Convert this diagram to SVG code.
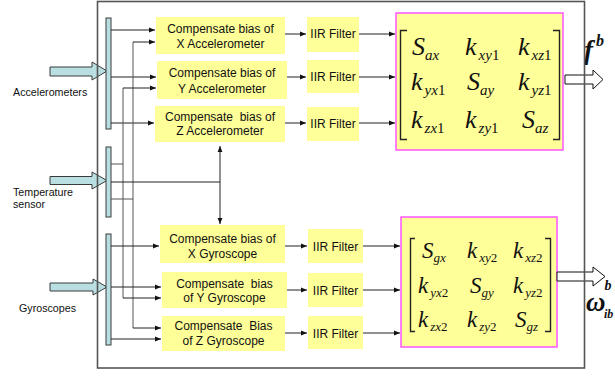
<svg xmlns="http://www.w3.org/2000/svg" width="615" height="376" viewBox="0 0 615 376">
  <style>
    .lbl { font-family: "Liberation Sans", Arial, sans-serif; font-size: 10.7px; fill: #111; }
    .box { fill: #ffff99; stroke: none; }
    .bt { font-family: "Liberation Sans", Arial, sans-serif; font-size: 12px; fill: #111; text-anchor: middle; white-space: pre; }
    .bar { fill: #b9dfe3; stroke: #3a3a3a; stroke-width: 1; }
    .fat { fill: #b9dfe3; stroke: #3a3a3a; stroke-width: 1; }
    .out { fill: #ffffff; stroke: #111; stroke-width: 1; }
    .mat { fill: #ffff99; stroke: #ff55ff; stroke-width: 1.5; }
    .brk { fill: none; stroke: #222; stroke-width: 1.4; }
    .m1 { font-family: "Liberation Serif", "Times New Roman", serif; font-style: italic; font-size: 26px; fill: #111; }
    .m2 { font-family: "Liberation Serif", "Times New Roman", serif; font-style: italic; font-size: 23px; fill: #111; }
    .s1 { font-size: 15px; }
    .s2 { font-size: 13px; }
    .n { font-style: normal; }
    .c { fill: none; stroke: #222; stroke-width: 1; }
    .cg { fill: none; stroke: #555; stroke-width: 1; }
    .sym { font-family: "Liberation Serif", "Times New Roman", serif; font-style: italic; font-weight: bold; fill: #111; }
  </style>
  <defs>
    <marker id="ah" viewBox="0 0 6 6" refX="6" refY="3" markerWidth="6" markerHeight="6" markerUnits="userSpaceOnUse" orient="auto-start-reverse">
      <path d="M0,0.6 L6,3 L0,5.4 Z" fill="#111"/>
    </marker>
  </defs>

  <!-- sensor inputs -->
  <g id="accelerometers">
    <polygon class="fat" points="50,67 92,67 92,62 107,71 92,80 92,76 50,76"/>
    <rect class="bar" x="106" y="18" width="5" height="111"/>
    <text class="lbl" x="13" y="96">Accelerometers</text>
  </g>
  <g id="temperature">
    <polygon class="fat" points="50,176.5 92,176.5 92,172 107,180.5 92,189 92,184.5 50,184.5"/>
    <rect class="bar" x="106" y="147" width="5" height="70"/>
    <text class="lbl" x="13" y="196">Temperature</text>
    <text class="lbl" x="13" y="208">sensor</text>
  </g>
  <g id="gyroscopes">
    <polygon class="fat" points="50,283 93,283 93,279 107,287 93,295 93,291 50,291"/>
    <rect class="bar" x="106" y="234" width="5" height="111"/>
    <text class="lbl" x="19" y="312">Gyroscopes</text>
  </g>

  <!-- bias compensation blocks -->
  <g id="comp-ax">
    <rect class="box" x="156" y="17" width="129" height="37"/>
    <text class="bt" x="220.5" y="33">Compensate bias of</text>
    <text class="bt" x="220.5" y="48">X Accelerometer</text>
  </g>
  <g id="comp-ay">
    <rect class="box" x="157" y="61" width="130" height="38"/>
    <text class="bt" x="222" y="77">Compensate bias of</text>
    <text class="bt" x="222" y="93">Y Accelerometer</text>
  </g>
  <g id="comp-az">
    <rect class="box" x="155" y="106" width="130" height="36"/>
    <text class="bt" x="220" y="121">Compensate  bias of</text>
    <text class="bt" x="220" y="135">Z Accelerometer</text>
  </g>
  <g id="comp-gx">
    <rect class="box" x="160" y="225" width="125" height="38"/>
    <text class="bt" x="222.5" y="243">Compensate bias of</text>
    <text class="bt" x="222.5" y="258">X Gyroscope</text>
  </g>
  <g id="comp-gy">
    <rect class="box" x="162" y="272" width="125" height="36"/>
    <text class="bt" x="224.5" y="288">Compensate  bias</text>
    <text class="bt" x="224.5" y="302">of Y Gyroscope</text>
  </g>
  <g id="comp-gz">
    <rect class="box" x="162" y="316" width="123" height="35"/>
    <text class="bt" x="223.5" y="330">Compensate  Bias</text>
    <text class="bt" x="223.5" y="345">of Z Gyroscope</text>
  </g>

  <!-- IIR filters -->
  <g id="iir-ax"><rect class="box" x="307" y="17" width="52" height="35"/><text class="bt" x="333" y="38">IIR Filter</text></g>
  <g id="iir-ay"><rect class="box" x="307" y="60" width="52" height="33"/><text class="bt" x="333" y="81">IIR Filter</text></g>
  <g id="iir-az"><rect class="box" x="307" y="107" width="52" height="34"/><text class="bt" x="333" y="128">IIR Filter</text></g>
  <g id="iir-gx"><rect class="box" x="308" y="229" width="55" height="34"/><text class="bt" x="335.5" y="251">IIR Filter</text></g>
  <g id="iir-gy"><rect class="box" x="308" y="273" width="55" height="34"/><text class="bt" x="335.5" y="295">IIR Filter</text></g>
  <g id="iir-gz"><rect class="box" x="308" y="316" width="55" height="33"/><text class="bt" x="335.5" y="338">IIR Filter</text></g>

  <!-- accelerometer calibration matrix -->
  <g id="matrix-accel">
    <rect class="mat" x="396" y="13" width="167" height="137"/>
    <path class="brk" d="M407,30.5 H400.5 V139.5 H407 M553,30.5 H559.5 V139.5 H553"/>
    <text class="m1" x="412" y="55">S<tspan class="s1" dy="5">ax</tspan></text>
    <text class="m1" x="465" y="55">k<tspan class="s1" dx="2" dy="5">xy</tspan><tspan class="s1 n">1</tspan></text>
    <text class="m1" x="518" y="55">k<tspan class="s1" dx="2" dy="5">xz</tspan><tspan class="s1 n">1</tspan></text>
    <text class="m1" x="411" y="90">k<tspan class="s1" dx="2" dy="5">yx</tspan><tspan class="s1 n">1</tspan></text>
    <text class="m1" x="467" y="90">S<tspan class="s1" dy="5">ay</tspan></text>
    <text class="m1" x="518" y="90">k<tspan class="s1" dx="2" dy="5">yz</tspan><tspan class="s1 n">1</tspan></text>
    <text class="m1" x="411" y="128">k<tspan class="s1" dx="2" dy="5">zx</tspan><tspan class="s1 n">1</tspan></text>
    <text class="m1" x="465" y="128">k<tspan class="s1" dx="2" dy="5">zy</tspan><tspan class="s1 n">1</tspan></text>
    <text class="m1" x="522" y="128">S<tspan class="s1" dy="5">az</tspan></text>
  </g>

  <!-- gyroscope calibration matrix -->
  <g id="matrix-gyro">
    <rect class="mat" x="401" y="217" width="156" height="130"/>
    <path class="brk" d="M415,238.5 H410.5 V331.5 H415 M545,238.5 H550.5 V331.5 H545"/>
    <text class="m2" x="422" y="258">S<tspan class="s2" dy="4">gx</tspan></text>
    <text class="m2" x="467" y="258">k<tspan class="s2" dx="2" dy="4">xy</tspan><tspan class="s2 n">2</tspan></text>
    <text class="m2" x="513" y="258">k<tspan class="s2" dx="2" dy="4">xz</tspan><tspan class="s2 n">2</tspan></text>
    <text class="m2" x="418" y="293">k<tspan class="s2" dx="2" dy="4">yx</tspan><tspan class="s2 n">2</tspan></text>
    <text class="m2" x="470" y="293">S<tspan class="s2" dy="4">gy</tspan></text>
    <text class="m2" x="513" y="293">k<tspan class="s2" dx="2" dy="4">yz</tspan><tspan class="s2 n">2</tspan></text>
    <text class="m2" x="418" y="327">k<tspan class="s2" dx="2" dy="4">zx</tspan><tspan class="s2 n">2</tspan></text>
    <text class="m2" x="467" y="327">k<tspan class="s2" dx="2" dy="4">zy</tspan><tspan class="s2 n">2</tspan></text>
    <text class="m2" x="515" y="327">S<tspan class="s2" dy="4">gz</tspan></text>
  </g>

  <!-- outputs -->
  <g id="out-f">
    <polygon class="out" points="565,75 593,75 593,70 603,79.5 593,89 593,84 565,84"/>
    <text class="sym" x="584" y="59" font-size="27">f<tspan font-size="16" dx="3" dy="-13">b</tspan></text>
  </g>
  <g id="out-omega">
    <polygon class="out" points="557,272 593,272 593,267 605,276.5 593,286 593,281 557,281"/>
    <text class="sym" x="586" y="311" font-size="27">ω<tspan font-size="14" x="604.5" y="290">b</tspan><tspan font-size="12" x="604" y="318">ib</tspan></text>
  </g>

  <!-- connectors -->
  <g id="connectors">
    <!-- accelerometer bus -->
    <path class="c" d="M111,30 H155" marker-end="url(#ah)"/>
    <path class="c" d="M111,77 H156" marker-end="url(#ah)"/>
    <path class="c" d="M111,123 H154" marker-end="url(#ah)"/>
    <!-- temperature feeds -->
    <path class="cg" d="M111,199 H133 M133,42 V328 M111,164 H123 M123,88 V298"/>
    <path class="c" d="M133,42 H155" marker-end="url(#ah)"/>
    <path class="c" d="M133,328 H161" marker-end="url(#ah)"/>
    <path class="c" d="M123,88 H156" marker-end="url(#ah)"/>
    <path class="c" d="M123,298 H161" marker-end="url(#ah)"/>
    <path class="c" d="M111,182 H220"/>
    <path class="c" d="M220,146 V224" marker-start="url(#ah)" marker-end="url(#ah)"/>
    <!-- gyroscope bus -->
    <path class="c" d="M111,246 H159" marker-end="url(#ah)"/>
    <path class="c" d="M111,287 H161" marker-end="url(#ah)"/>
    <path class="c" d="M111,339 H161" marker-end="url(#ah)"/>
    <!-- compensation to filters -->
    <path class="c" d="M285,34 H306" marker-end="url(#ah)"/>
    <path class="c" d="M287,77 H306" marker-end="url(#ah)"/>
    <path class="c" d="M285,123 H306" marker-end="url(#ah)"/>
    <path class="c" d="M285,246 H307" marker-end="url(#ah)"/>
    <path class="c" d="M287,290 H307" marker-end="url(#ah)"/>
    <path class="c" d="M285,333 H307" marker-end="url(#ah)"/>
    <!-- filters to matrices -->
    <path class="c" d="M359,34 H395" marker-end="url(#ah)"/>
    <path class="c" d="M359,77 H395" marker-end="url(#ah)"/>
    <path class="c" d="M359,123 H395" marker-end="url(#ah)"/>
    <path class="c" d="M363,246 H400" marker-end="url(#ah)"/>
    <path class="c" d="M363,290 H400" marker-end="url(#ah)"/>
    <path class="c" d="M363,333 H400" marker-end="url(#ah)"/>
  </g>

  <!-- system boundary -->
  <rect id="frame" x="97.5" y="1.5" width="487" height="366.5" fill="none" stroke="#555" stroke-width="1.6"/>
</svg>
